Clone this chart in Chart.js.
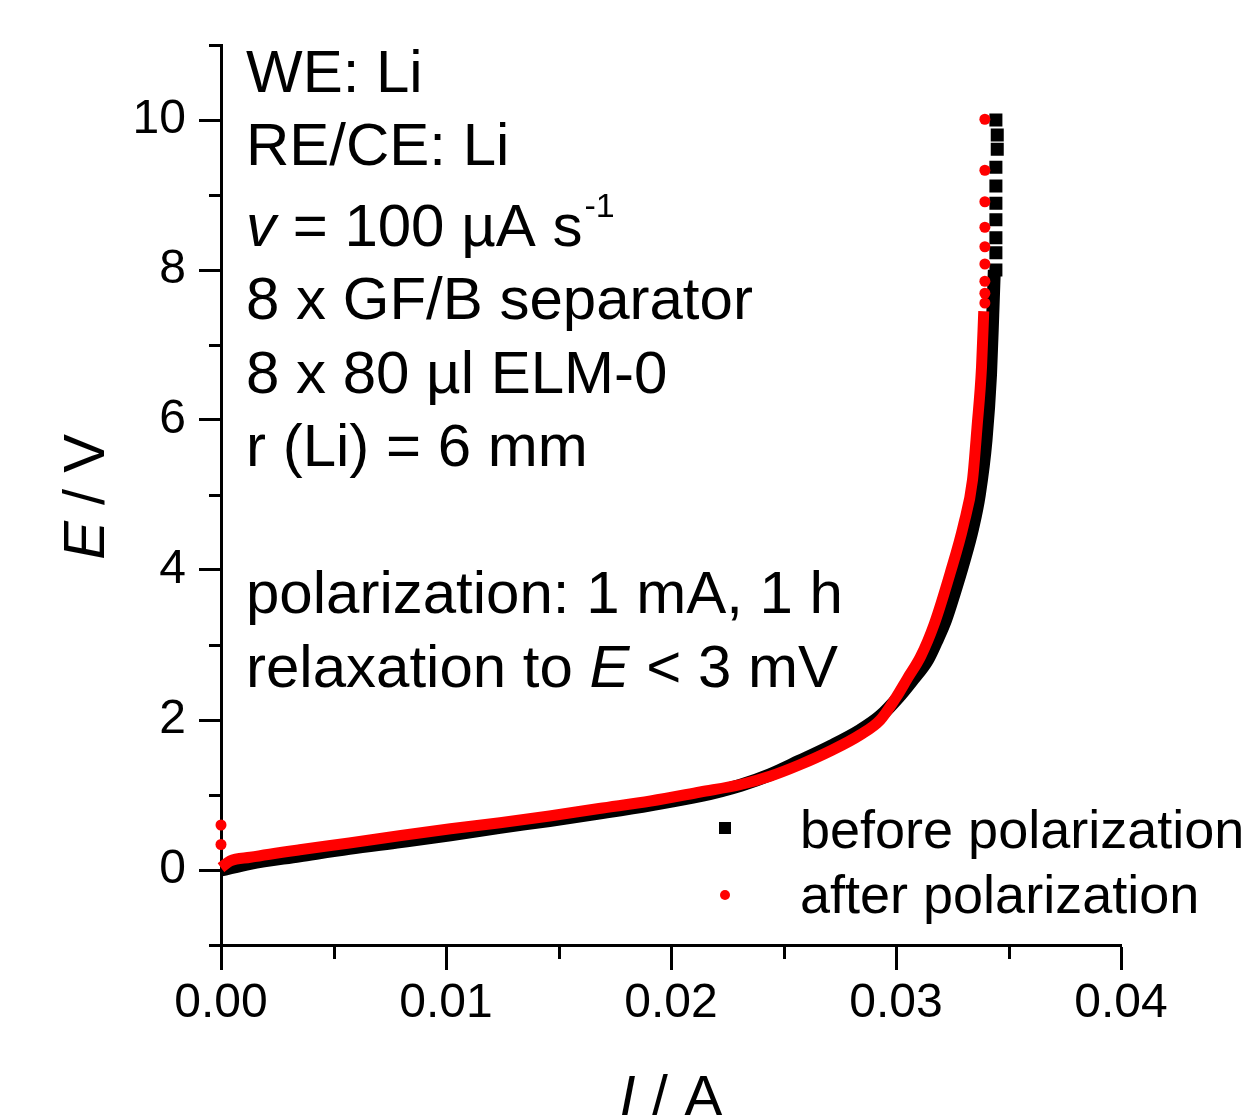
<!DOCTYPE html>
<html>
<head>
<meta charset="utf-8">
<script src="https://cdn.jsdelivr.net/npm/chart.js@4.4.1/dist/chart.umd.min.js"></script>
<style>
html,body{margin:0;padding:0;background:#fff;overflow:hidden}
#wrap{width:1242px;height:1115px;position:relative}
</style>
</head>
<body>
<div id="wrap"><canvas id="c"></canvas></div>
<script>
// ---------- data ----------
const seriesNames = ['before polarization', 'after polarization'];

const xTickValues = [0, 0.01, 0.02, 0.03, 0.04];
const xMinorTickValues = [0.005, 0.015, 0.025, 0.035];
const yTickValues = [0, 2, 4, 6, 8, 10];
const yMinorTickValues = [-1, 1, 3, 5, 7, 9, 11];

// before polarization (black squares) – dense part of the sweep
const beforeI = [0.0000, 0.0013, 0.0035, 0.0057, 0.0080, 0.0102, 0.0124, 0.0146, 0.0168, 0.0191,
                 0.0213, 0.0231, 0.0244, 0.0257, 0.0271, 0.0284, 0.0293, 0.0301, 0.0307, 0.0314,
                 0.0318, 0.0322, 0.0326, 0.0330, 0.0334, 0.0337, 0.0340, 0.0342, 0.0343, 0.03437];
const beforeE = [0.00, 0.09, 0.19, 0.29, 0.38, 0.47, 0.57, 0.66, 0.76, 0.87,
                 0.99, 1.13, 1.27, 1.45, 1.65, 1.86, 2.05, 2.30, 2.52, 2.80,
                 3.05, 3.33, 3.70, 4.10, 4.55, 5.00, 5.73, 6.60, 7.40, 8.00];
// before polarization – separated points near the top
const beforeTopI = [0.03444, 0.03450, 0.03450, 0.03444, 0.03444, 0.03444, 0.03444, 0.03444, 0.03444, 0.03444];
const beforeTopE = [10.00, 9.80, 9.61, 9.37, 9.12, 8.89, 8.67, 8.43, 8.23, 8.00];

// after polarization (red circles) – dense part of the sweep
const afterI = [0.0000, 0.0004, 0.0013, 0.0035, 0.0057, 0.0080, 0.0102, 0.0124, 0.0146, 0.0168,
                0.0191, 0.0213, 0.0231, 0.0244, 0.0257, 0.0271, 0.0284, 0.0293, 0.0300, 0.0305,
                0.0311, 0.0317, 0.0324, 0.0330, 0.0334, 0.0336, 0.0338, 0.0339];
const afterE = [0.03, 0.12, 0.17, 0.27, 0.36, 0.46, 0.55, 0.63, 0.72, 0.82,
                0.92, 1.04, 1.14, 1.25, 1.40, 1.59, 1.80, 2.00, 2.30, 2.55,
                2.85, 3.28, 3.95, 4.60, 5.20, 5.90, 6.70, 7.45];
// after polarization – separated points (start and top)
const afterSparseI = [0.0000, 0.0000, 0.03395, 0.03395, 0.03395, 0.03395, 0.03395, 0.03395, 0.03395, 0.03395, 0.03395];
const afterSparseE = [0.60, 0.34, 7.56, 7.69, 7.85, 8.08, 8.31, 8.57, 8.91, 9.33, 10.01];

// annotation text: [text, style] ; style '' normal, 'i' italic, 'sup' superscript
const noteLines = [
  [['WE: Li', '']],
  [['RE/CE: Li', '']],
  [['v', 'i'], [' = 100 \u00B5A s', ''], ['-1', 'sup']],
  [['8 x GF/B separator', '']],
  [['8 x 80 \u00B5l ELM-0', '']],
  [['r (Li) = 6 mm', '']],
  [['polarization: 1 mA, 1 h', '']],
  [['relaxation to ', ''], ['E', 'i'], [' < 3 mV', '']]
];
const xTitle = [['I', 'i'], [' / A', '']];
const yTitle = [['E', 'i'], [' / V', '']];

// ---------- helpers ----------
const FAM = "'Liberation Sans', Arial, sans-serif";
const pts = (xs, ys) => xs.map((x, i) => ({x: x, y: ys[i]}));

function richWidth(ctx, parts, size) {
  let w = 0;
  parts.forEach(([t, s]) => {
    if (s === 'sup') ctx.font = Math.round(size * 0.57) + 'px ' + FAM;
    else ctx.font = (s === 'i' ? 'italic ' : '') + size + 'px ' + FAM;
    w += ctx.measureText(t).width;
  });
  return w;
}
function drawRich(ctx, x, y, parts, size) {
  let cx = x;
  ctx.textAlign = 'left';
  ctx.textBaseline = 'alphabetic';
  parts.forEach(([t, s]) => {
    if (s === 'sup') {
      ctx.font = Math.round(size * 0.57) + 'px ' + FAM;
      ctx.fillText(t, cx + 2, y - size * 0.48);
    } else {
      ctx.font = (s === 'i' ? 'italic ' : '') + size + 'px ' + FAM;
      ctx.fillText(t, cx, y);
    }
    cx += ctx.measureText(t).width;
  });
}

const overlay = {
  id: 'overlay',
  afterDraw(chart) {
    const ctx = chart.ctx;
    const xs = chart.scales.x, ys = chart.scales.y;
    const ca = chart.chartArea;
    ctx.save();
    // minor ticks
    ctx.strokeStyle = '#000';
    ctx.lineWidth = 3;
    ctx.lineCap = 'butt';
    xMinorTickValues.forEach(v => {
      const px = Math.round(xs.getPixelForValue(v)) + 0.5;
      ctx.beginPath(); ctx.moveTo(px, ca.bottom); ctx.lineTo(px, ca.bottom + 14); ctx.stroke();
    });
    yMinorTickValues.forEach(v => {
      const py = Math.round(ys.getPixelForValue(v)) + 0.5;
      ctx.beginPath(); ctx.moveTo(ca.left, py); ctx.lineTo(ca.left - 12, py); ctx.stroke();
    });
    ctx.fillStyle = '#000';
    // annotation block
    const baselines = [92, 165, 246, 319, 393, 466, 613, 687];
    noteLines.forEach((parts, i) => drawRich(ctx, 246, baselines[i], parts, 60));
    // axis titles
    const tSize = 58;
    const xw = richWidth(ctx, xTitle, tSize);
    drawRich(ctx, 671 - xw / 2, 1116, xTitle, tSize);
    const yw = richWidth(ctx, yTitle, tSize);
    ctx.save();
    ctx.translate(104, 497);
    ctx.rotate(-Math.PI / 2);
    drawRich(ctx, -yw / 2, 0, yTitle, tSize);
    ctx.restore();
    // legend
    ctx.fillStyle = '#000';
    ctx.fillRect(719, 822, 12, 12);
    ctx.fillStyle = '#ff0000';
    ctx.beginPath(); ctx.arc(725, 895, 5, 0, Math.PI * 2); ctx.fill();
    ctx.fillStyle = '#000';
    ctx.font = '54px ' + FAM;
    ctx.textAlign = 'left';
    ctx.textBaseline = 'alphabetic';
    ctx.fillText(seriesNames[0], 800, 848);
    ctx.fillText(seriesNames[1], 800, 913);
    ctx.restore();
  }
};

Chart.defaults.font.family = FAM;
Chart.defaults.color = '#000';

new Chart(document.getElementById('c'), {
  type: 'scatter',
  data: {
    datasets: [
      {
        label: seriesNames[0],
        data: pts(beforeI, beforeE),
        showLine: true,
        borderColor: '#000000',
        backgroundColor: '#000000',
        borderWidth: 13,
        borderJoinStyle: 'round',
        cubicInterpolationMode: 'monotone',
        pointRadius: 0,
        clip: false,
        order: 3
      },
      {
        label: seriesNames[0] + ' ',
        data: pts(beforeTopI, beforeTopE),
        showLine: false,
        pointStyle: 'rect',
        pointRadius: 9.2,
        borderWidth: 0,
        backgroundColor: '#000000',
        borderColor: '#000000',
        clip: false,
        order: 2
      },
      {
        label: seriesNames[1],
        data: pts(afterI, afterE),
        showLine: true,
        borderColor: '#ff0000',
        backgroundColor: '#ff0000',
        borderWidth: 11,
        borderJoinStyle: 'round',
        cubicInterpolationMode: 'monotone',
        pointRadius: 0,
        clip: false,
        order: 1
      },
      {
        label: seriesNames[1] + ' ',
        data: pts(afterSparseI, afterSparseE),
        showLine: false,
        pointStyle: 'circle',
        pointRadius: 5.5,
        borderWidth: 0,
        backgroundColor: '#ff0000',
        borderColor: '#ff0000',
        clip: false,
        order: 0
      }
    ]
  },
  options: {
    responsive: true,
    maintainAspectRatio: false,
    animation: false,
    events: [],
    layout: { padding: { left: 0, top: 45, right: 121, bottom: 0 } },
    plugins: { legend: { display: false }, tooltip: { enabled: false }, title: { display: false } },
    scales: {
      x: {
        type: 'linear',
        min: 0, max: 0.04,
        afterBuildTicks: s => { s.ticks = xTickValues.map(v => ({value: v})); },
        afterFit: s => { s.height = 170; },
        border: { display: true, color: '#000', width: 3 },
        grid: { drawOnChartArea: false, drawTicks: true, tickLength: 25, tickWidth: 3, tickColor: '#000' },
        ticks: {
          autoSkip: false, maxRotation: 0, padding: 5,
          font: { size: 48, family: FAM },
          color: '#000',
          callback: v => Number(v).toFixed(2)
        }
      },
      y: {
        type: 'linear',
        min: -1, max: 11,
        afterBuildTicks: s => { s.ticks = yTickValues.map(v => ({value: v})); },
        afterFit: s => { s.width = 221; },
        border: { display: true, color: '#000', width: 3 },
        grid: { drawOnChartArea: false, drawTicks: true, tickLength: 22, tickWidth: 3, tickColor: '#000' },
        ticks: {
          autoSkip: false, padding: 13,
          font: { size: 48, family: FAM },
          color: '#000',
          callback: v => String(v)
        }
      }
    }
  },
  plugins: [overlay]
});
</script>
</body>
</html>
